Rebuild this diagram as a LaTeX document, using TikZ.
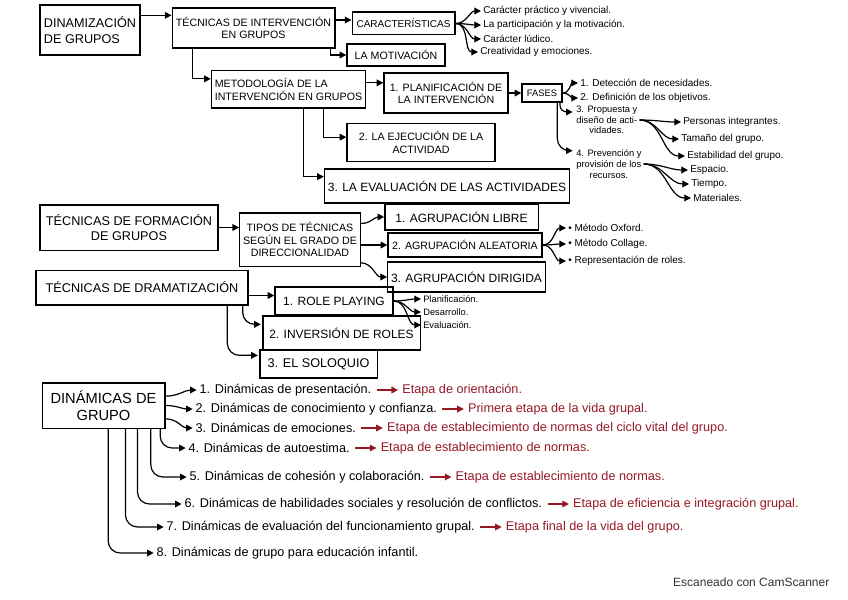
\documentclass[tikz,border=0pt]{standalone}
\usepackage{fontspec}
\setmainfont{Liberation Sans}
\usepackage{tikz}
\usetikzlibrary{arrows.meta, calc}
\usepackage{xcolor}
\definecolor{inkred}{RGB}{150,25,40}

\begin{document}
\begin{tikzpicture}[
  x=0.75pt, y=-0.75pt,
  box/.style={draw, line width=1pt, inner sep=2.5pt, align=center,
              font=\fontsize{8}{9.5}\selectfont},
  bigbox/.style={box, font=\fontsize{9}{10.5}\selectfont},
  headbox/.style={box, font=\fontsize{9.5}{11.5}\selectfont},
  note/.style={anchor=west, inner sep=1.5pt, font=\fontsize{7.5}{9}\selectfont},
  tinynote/.style={anchor=west, inner sep=1.5pt, font=\fontsize{7}{8}\selectfont},
  item/.style={anchor=west, inner sep=1pt, font=\fontsize{9.5}{11}\selectfont},
  stage/.style={item, text=inkred},
  arrow/.style={-{Triangle[length=5pt, width=5pt]}, line width=0.9pt},
  branch/.style={arrow, rounded corners=9pt, shorten >=1pt},
  redarrow/.style={arrow, draw=inkred, shorten <=3pt, shorten >=2pt}
]
\fill[white] (0,0) rectangle (848,599);
\useasboundingbox (0,0) rectangle (848,599);

\node[headbox, align=left, minimum width=75pt, minimum height=37.5pt] (dina) at (90,30) {DINAMIZACIÓN\\DE GRUPOS};
\node[box, minimum width=122pt, minimum height=30pt] (tint) at (253.5,28) {TÉCNICAS DE INTERVENCIÓN\\EN GRUPOS};
\node[box, font=\fontsize{7.5}{9}\selectfont, minimum width=77pt, minimum height=17pt] (carac) at (403.5,23.5) {CARACTERÍSTICAS};
\node[box, minimum width=73.5pt, minimum height=16.5pt] (motiv) at (396,55) {LA MOTIVACIÓN};
\node[note] (c1) at (481,11) {Carácter práctico y vivencial.};
\node[note] (c2) at (481,25) {La participación y la motivación.};
\node[note] (c3) at (481,39) {Carácter lúdico.};
\node[note] (c4) at (478,52) {Creatividad y emociones.};

\node[box, align=left, minimum width=115pt, minimum height=28pt] (metod) at (288.5,89.5) {METODOLOGÍA DE LA\\INTERVENCIÓN EN GRUPOS};
\node[box, minimum width=93pt, minimum height=30pt] (plan) at (446,93) {1. PLANIFICACIÓN DE\\LA INTERVENCIÓN};
\node[box, font=\fontsize{7}{8}\selectfont, minimum width=30pt, minimum height=13.5pt] (fases) at (542,93) {FASES};
\node[box, minimum width=111pt, minimum height=28pt] (ejec) at (421,142.5) {2. LA EJECUCIÓN DE LA\\ACTIVIDAD};
\node[bigbox, minimum width=181.5pt, minimum height=25.5pt] (eval) at (447,186) {3. LA EVALUACIÓN DE LAS ACTIVIDADES};
\node[note] (f1) at (578,83) {1. Detección de necesidades.};
\node[note] (f2) at (578,98) {2. Definición de los objetivos.};
\node[tinynote, align=center] (f3) at (574,120) {3. Propuesta y\\diseño de acti-\\vidades.};
\node[tinynote, align=center] (f4) at (574,164) {4. Prevención y\\provisión de los\\recursos.};
\node[note] (p1) at (681,122) {Personas integrantes.};
\node[note] (p2) at (679,139) {Tamaño del grupo.};
\node[note] (p3) at (685,156) {Estabilidad del grupo.};
\node[note] (s1) at (688,170) {Espacio.};
\node[note] (s2) at (689,184) {Tiempo.};
\node[note] (s3) at (691,198) {Materiales.};

\node[headbox, minimum width=133.5pt, minimum height=34pt] (tform) at (129,227.5) {TÉCNICAS DE FORMACIÓN\\DE GRUPOS};
\node[box, minimum width=90pt, minimum height=40pt] (tipos) at (300,239.5) {TIPOS DE TÉCNICAS\\SEGÚN EL GRADO DE\\DIRECCIONALIDAD};
\node[bigbox, minimum width=115pt, minimum height=19.5pt] (libre) at (461.5,217) {1. AGRUPACIÓN LIBRE};
\node[box, minimum width=115.5pt, minimum height=18pt] (aleat) at (465,245) {2. AGRUPACIÓN ALEATORIA};
\node[bigbox, minimum width=118pt, minimum height=22.5pt] (dirig) at (466.5,277) {3. AGRUPACIÓN DIRIGIDA};
\node[note] (m1) at (566,228) {• Método Oxford.};
\node[note] (m2) at (566,244) {• Método Collage.};
\node[note] (m3) at (566,261) {• Representación de roles.};

\node[headbox, minimum width=159pt, minimum height=26pt] (tdram) at (142,287.5) {TÉCNICAS DE DRAMATIZACIÓN};
\node[bigbox, minimum width=88.5pt, minimum height=21pt] (role) at (334,301) {1. ROLE PLAYING};
\node[bigbox, minimum width=118pt, minimum height=25.5pt] (inver) at (341.5,333) {2. INVERSIÓN DE ROLES};
\node[headbox, minimum width=88pt, minimum height=21pt] (solo) at (318.5,364) {3. EL SOLOQUIO};
\node[tinynote] (r1) at (421,299) {Planificación.};
\node[tinynote] (r2) at (421,312) {Desarrollo.};
\node[tinynote] (r3) at (421,325) {Evaluación.};

\node[headbox, font=\fontsize{11}{13}\selectfont, minimum width=92pt, minimum height=34pt] (dgrupo) at (103.5,405.5) {DINÁMICAS DE\\GRUPO};
\node[item] (d1) at (198,390) {1. Dinámicas de presentación.};
\node[item] (d2) at (194,409) {2. Dinámicas de conocimiento y confianza.};
\node[item] (d3) at (194,428) {3. Dinámicas de emociones.};
\node[item] (d4) at (187,448) {4. Dinámicas de autoestima.};
\node[item] (d5) at (188,477) {5. Dinámicas de cohesión y colaboración.};
\node[item] (d6) at (183,504) {6. Dinámicas de habilidades sociales y resolución de conflictos.};
\node[item] (d7) at (165,527) {7. Dinámicas de evaluación del funcionamiento grupal.};
\node[item] (d8) at (155,553) {8. Dinámicas de grupo para educación infantil.};
\node[stage] (e1) at ($(d1.east)+(28,0)$) {Etapa de orientación.};
\node[stage] (e2) at ($(d2.east)+(28,0)$) {Primera etapa de la vida grupal.};
\node[stage] (e3) at ($(d3.east)+(28,0)$) {Etapa de establecimiento de normas del ciclo vital del grupo.};
\node[stage] (e4) at ($(d4.east)+(28,0)$) {Etapa de establecimiento de normas.};
\node[stage] (e5) at ($(d5.east)+(28,0)$) {Etapa de establecimiento de normas.};
\node[stage] (e6) at ($(d6.east)+(28,0)$) {Etapa de eficiencia e integración grupal.};
\node[stage] (e7) at ($(d7.east)+(28,0)$) {Etapa final de la vida del grupo.};

\node[anchor=east, font=\fontsize{9}{10}\selectfont, text=black!80] (scan) at (834,582) {Escaneado con CamScanner};

\draw[arrow] ([yshift=11pt]dina.east) -- ([yshift=11pt]dina.east -| tint.west);
\draw[arrow] ([yshift=6pt]tint.east) -- ([yshift=6pt]tint.east -| carac.west);
\draw[arrow] ([xshift=-4pt]tint.south east) |- (motiv.west);
\draw[arrow] (carac.east) to[out=0, in=180] (c1.west);
\draw[arrow] (carac.east) to[out=0, in=180] (c2.west);
\draw[arrow] (carac.east) to[out=0, in=180] (c3.west);
\draw[arrow] (carac.east) to[out=0, in=180] (c4.west);

\draw[arrow] ([xshift=16pt]tint.south west) |- ([yshift=8pt]metod.west);
\draw[arrow] ([yshift=5pt]metod.east) -- ([yshift=5pt]metod.east -| plan.west);
\draw[arrow] (plan.east) -- (fases.west);
\draw[arrow] ([xshift=26pt]metod.south) |- ([yshift=4pt]ejec.west);
\draw[arrow] ([xshift=11pt]metod.south) |- ([yshift=7pt]eval.west);
\draw[arrow] (fases.east) to[out=0, in=180] (f1.west);
\draw[arrow] (fases.east) to[out=0, in=180] (f2.west);
\draw[branch, rounded corners=5pt] ([xshift=-2pt]fases.south east) |- ([yshift=6pt]f3.west);
\draw[branch] ([xshift=-4pt]fases.south east) |- ([yshift=10pt]f4.west);
\draw[arrow] (f3.east) to[out=0, in=180] (p1.west);
\draw[arrow] (f3.east) to[out=0, in=180] (p2.west);
\draw[arrow] (f3.east) to[out=0, in=180] (p3.west);
\draw[arrow] (f4.east) to[out=0, in=180] (s1.west);
\draw[arrow] (f4.east) to[out=0, in=180] (s2.west);
\draw[arrow] (f4.east) to[out=0, in=180] (s3.west);

\draw[arrow] (tform.east) -- (tform.east -| tipos.west);
\draw[arrow] ([yshift=12pt]tipos.east) to[out=0, in=180] (libre.west);
\draw[arrow] (tipos.east |- aleat.west) -- (aleat.west);
\draw[arrow] ([yshift=3pt]tipos.south east) to[out=0, in=180] (dirig.west);
\draw[arrow] (aleat.east) to[out=0, in=180] (m1.west);
\draw[arrow] (aleat.east) to[out=0, in=180] (m2.west);
\draw[arrow] (aleat.east) to[out=0, in=180] (m3.west);

\draw[arrow] ([yshift=-6pt]tdram.east) -- ([yshift=-6pt]tdram.east -| role.west);
\draw[arrow] (role.east) to[out=0, in=180] (r1.west);
\draw[arrow] (role.east) to[out=0, in=180] (r2.west);
\draw[arrow] (role.east) to[out=0, in=180] (r3.west);
\draw[branch] ([xshift=-4.5pt]tdram.south east) |- ([yshift=6.5pt]inver.west);
\draw[branch] ([xshift=-16pt]tdram.south east) |- ([yshift=6.5pt]solo.west);

\draw[arrow, shorten >=1pt] ([yshift=7pt]dgrupo.east) to[out=0, in=180] (d1.west);
\draw[arrow, shorten >=1pt] (dgrupo.east) to[out=0, in=180] (d2.west);
\draw[arrow, shorten >=1pt] ([yshift=-10pt]dgrupo.east) to[out=0, in=180] (d3.west);
\draw[branch] ([xshift=-4pt]dgrupo.south east) |- (d4.west);
\draw[branch] ([xshift=-11pt]dgrupo.south east) |- (d5.west);
\draw[branch] ([xshift=-21pt]dgrupo.south east) |- (d6.west);
\draw[branch] ([xshift=-30pt]dgrupo.south east) |- (d7.west);
\draw[branch] ([xshift=-43pt]dgrupo.south east) |- (d8.west);
\draw[redarrow] (d1.east) -- (e1.west);
\draw[redarrow] (d2.east) -- (e2.west);
\draw[redarrow] (d3.east) -- (e3.west);
\draw[redarrow] (d4.east) -- (e4.west);
\draw[redarrow] (d5.east) -- (e5.west);
\draw[redarrow] (d6.east) -- (e6.west);
\draw[redarrow] (d7.east) -- (e7.west);

\end{tikzpicture}
\end{document}
